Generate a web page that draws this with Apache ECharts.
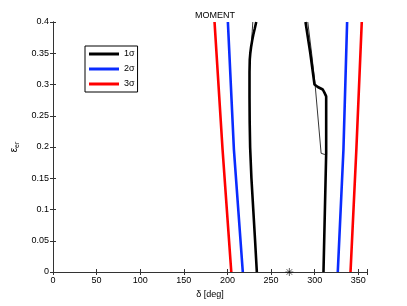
<!DOCTYPE html>
<html>
<head>
<meta charset="utf-8">
<script src="https://cdn.jsdelivr.net/npm/echarts@6/dist/echarts.min.js"></script>
<style>html,body{margin:0;padding:0;background:#fff}#c{width:407px;height:306px}</style>
</head>
<body>
<div id="c"></div>
<script>
// ---- data (delta [deg], epsilon) ----
const xTicks = [0, 50, 100, 150, 200, 250, 300, 350];
const legendNames = ['1σ', '2σ', '3σ'];
const sigma1Left = [[233.0,0.4],[231.4,0.39],[229.7,0.38],[228.3,0.37],[227.1,0.36],[226.2,0.35],[225.6,0.34],[225.3,0.32],[225.3,0.28],[225.5,0.24],[226.0,0.2],[227.5,0.15],[229.6,0.1],[231.7,0.05],[233.7,0]];
const sigma1LeftThin = [[229.1,0.4],[228.4,0.385],[227.6,0.37]];
const sigma1Right = [[289.5,0.4],[295.0,0.35],[299.8,0.30],[301.5,0.298],[303.6,0.296],[309.3,0.292],[311.2,0.287],[313.2,0.281],[313.2,0.19],[310.1,0]];
const sigma1RightThin = [[292.1,0.4],[296.5,0.35],[300.5,0.30],[307.4,0.19],[311.5,0.188],[313.2,0.186]];
const sigma2Left = [[200.5,0.4],[207.4,0.196],[217.6,0]];
const sigma2Right = [[337.2,0.4],[333.0,0.196],[326.5,0]];
const sigma3Left = [[185.2,0.4],[194.4,0.196],[204.4,0]];
const sigma3Right = [[354.0,0.4],[347.8,0.196],[341.1,0]];
const starPoint = [[271, 0]];

const FONT = "'Liberation Sans', Arial, sans-serif";
const AX = '#333';
const BLACK = '#000000', BLUE = '#0a2cff', RED = '#ff0000';

function lineSeries(name, data, color, width) {
  return {
    type: 'line', name: name, data: data, color: color,
    showSymbol: false, symbol: 'none', smooth: false, silent: true,
    lineStyle: { color: color, width: width }, animation: false
  };
}

const chart = echarts.init(document.getElementById('c'), null, { renderer: 'canvas' });
chart.setOption({
  backgroundColor: '#ffffff',
  animation: false,
  title: {
    text: 'MOMENT', left: 210, top: 6, textAlign: 'center',
    textStyle: { fontFamily: FONT, fontSize: 9, fontWeight: 'normal', color: '#000' }
  },
  legend: {
    left: 85, top: 46, orient: 'vertical', data: legendNames,
    icon: 'rect', itemWidth: 30, itemHeight: 3, itemGap: 3,
    padding: [2, 3, 2, 4], borderColor: '#000', borderWidth: 1, backgroundColor: '#fff',
    selectedMode: false,
    textStyle: { fontFamily: FONT, fontSize: 9, lineHeight: 12, color: '#000' }
  },
  grid: { left: 53, right: 40, top: 22, bottom: 34, outerBoundsMode: 'none' },
  xAxis: [{
    type: 'value', min: 0, max: 360, interval: 50, position: 'bottom',
    name: 'δ [deg]', nameLocation: 'middle', nameGap: 12,
    nameTextStyle: { fontFamily: FONT, fontSize: 9, color: '#000' },
    axisLine: { show: true, lineStyle: { color: AX, width: 1 } },
    axisTick: { show: true, inside: true, length: 3, lineStyle: { color: AX } },
    axisLabel: { fontFamily: FONT, fontSize: 9, color: '#000', margin: 4,
      formatter: v => (xTicks.indexOf(v) >= 0 ? String(v) : '') },
    splitLine: { show: false }
  }, {
    type: 'value', min: 0, max: 360, interval: 50, position: 'top',
    axisLine: { show: true, lineStyle: { color: AX, width: 1 } },
    axisTick: { show: true, inside: true, length: 3, lineStyle: { color: AX } },
    axisLabel: { show: false }, splitLine: { show: false }
  }],
  yAxis: [{
    type: 'value', min: 0, max: 0.4, interval: 0.05, position: 'left',
    name: '{e|ε}{s|er}', nameLocation: 'middle', nameGap: 25,
    nameTextStyle: { fontFamily: FONT, color: '#000',
      rich: { e: { fontFamily: FONT, fontSize: 10, color: '#000' },
              s: { fontFamily: FONT, fontSize: 7, color: '#000', padding: [6, 0, 0, 0] } } },
    axisLine: { show: true, lineStyle: { color: AX, width: 1 } },
    axisTick: { show: true, inside: true, length: 3, lineStyle: { color: AX } },
    axisLabel: { fontFamily: FONT, fontSize: 9, color: '#000', margin: 4 },
    splitLine: { show: false }
  }, {
    type: 'value', min: 0, max: 0.4, interval: 0.05, position: 'right',
    axisLine: { show: true, lineStyle: { color: AX, width: 1 } },
    axisTick: { show: true, inside: true, length: 3, lineStyle: { color: AX } },
    axisLabel: { show: false }, splitLine: { show: false }
  }],
  series: [
    lineSeries('1σ', sigma1Left, BLACK, 2.6),
    lineSeries('1σ', sigma1Right, BLACK, 2.6),
    lineSeries('1σ thin', sigma1LeftThin, BLACK, 0.8),
    lineSeries('1σ thin', sigma1RightThin, BLACK, 0.8),
    lineSeries('2σ', sigma2Left, BLUE, 2.6),
    lineSeries('2σ', sigma2Right, BLUE, 2.6),
    lineSeries('3σ', sigma3Left, RED, 2.6),
    lineSeries('3σ', sigma3Right, RED, 2.6),
    {
      type: 'scatter', name: 'star', data: starPoint, clip: false, silent: true,
      symbol: 'path://M5,0L5,10M0,5L10,5M1.5,1.5L8.5,8.5M8.5,1.5L1.5,8.5',
      symbolSize: 8,
      itemStyle: { color: 'none', borderColor: '#000', borderWidth: 0.8 }
    }
  ]
});
</script>
</body>
</html>
